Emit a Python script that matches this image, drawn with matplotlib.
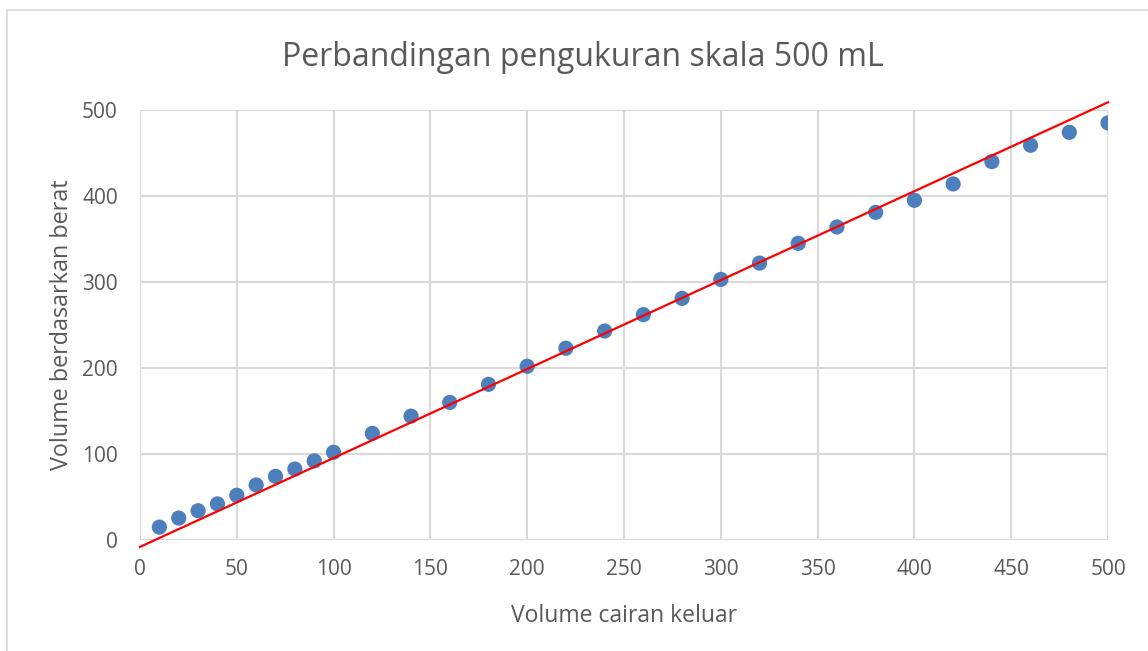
import matplotlib.pyplot as plt
from matplotlib.patches import Rectangle

# Measured points (volume out vs. volume by weight)
vol_keluar = [10, 20, 30, 40, 50, 60, 70, 80, 90, 100,
              120, 140, 160, 180, 200, 220, 240, 260, 280, 300,
              320, 340, 360, 380, 400, 420, 440, 460, 480, 500]
vol_berat = [15, 25.5, 34, 42, 52, 64, 74, 82.5, 92, 102,
             124, 144, 160, 181, 202, 223, 243, 262, 281, 303,
             322, 345, 364, 381, 395, 414, 440, 459, 474, 485]

# Red reference line end points
garis_x = [0, 500]
garis_y = [-8, 509]

x_ticks = [0, 50, 100, 150, 200, 250, 300, 350, 400, 450, 500]
y_ticks = [0, 100, 200, 300, 400, 500]

plt.rcParams['font.family'] = ['Open Sans', 'DejaVu Sans']
text_color = '#595959'
grid_color = '#d9d9d9'

fig = plt.figure(figsize=(11.48, 6.51), dpi=100)
# chart area border
fig.patches.append(Rectangle((7 / 1148, -0.01), 1.1, 1 - 10 / 651 + 0.01,
                             transform=fig.transFigure, fill=False,
                             edgecolor=grid_color, linewidth=1.2))

ax = fig.add_axes([140 / 1148, 1 - 540 / 651, 968 / 1148, 430 / 651])
ax.set_xlim(0, 500)
ax.set_ylim(0, 500)
ax.set_xticks(x_ticks)
ax.set_yticks(y_ticks)
ax.grid(True, color=grid_color, linewidth=1.5)
ax.set_axisbelow(True)
for s in ax.spines.values():
    s.set_visible(False)
ax.tick_params(length=0, labelsize=15, labelcolor=text_color)
ax.tick_params(axis='y', pad=16)
ax.tick_params(axis='x', pad=14)

ax.scatter(vol_keluar, vol_berat, s=120, color='#4e7fbd', zorder=3,
           edgecolors='none')
ax.plot(garis_x, garis_y, color='#ff0000', linewidth=1.6, zorder=4,
        clip_on=False)

ax.set_xlabel('Volume cairan keluar', fontsize=16.5, color=text_color)
ax.set_ylabel('Volume berdasarkan berat', fontsize=16.8, color=text_color)
ax.xaxis.set_label_coords(0.5, -0.15)
ax.yaxis.set_label_coords(-0.068, 0.5)

fig.text(583 / 1148, 1 - 57 / 651, 'Perbandingan pengukuran skala 500 mL',
         fontsize=23, color=text_color, ha='center', va='center')

fig.savefig('out.png', dpi=100)
